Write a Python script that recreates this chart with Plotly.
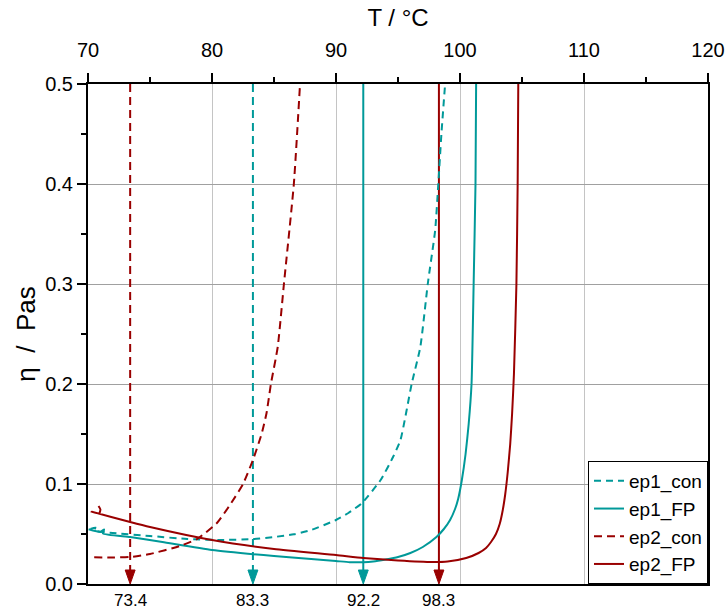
import plotly.graph_objects as go

# ---------------- data ----------------
ep1_con_T = [70.2, 70.6, 70.5, 72.0, 75.0, 78.0, 80.7, 83.3, 85.0, 86.6, 88.0, 90.0, 91.0, 92.1,
             93.6, 94.6, 95.2, 96.1, 96.8, 97.4, 98.0, 98.25, 98.5, 98.8]
ep1_con_eta = [0.055, 0.0565, 0.0535, 0.051, 0.048, 0.045, 0.044, 0.045, 0.047, 0.0497, 0.054, 0.064,
               0.071, 0.081, 0.104, 0.127, 0.144, 0.2, 0.237, 0.3, 0.354, 0.4, 0.45, 0.5]

ep1_FP_T = [70.05, 71.0, 71.3, 71.2, 73.4, 76.0, 80.0, 85.0, 88.0, 90.0, 91.1, 92.2, 93.0, 94.0,
            95.0, 96.0, 97.0, 98.1, 98.7, 99.2, 99.6, 99.85, 100.15, 100.45, 100.7, 100.93,
            101.1, 101.25, 101.3]
ep1_FP_eta = [0.0547, 0.052, 0.0545, 0.0505, 0.047, 0.042, 0.034, 0.028, 0.025, 0.023, 0.0218,
              0.0218, 0.0225, 0.0245, 0.027, 0.031, 0.037, 0.047, 0.055, 0.064, 0.075, 0.085,
              0.104, 0.13, 0.16, 0.2, 0.3, 0.4, 0.5]

ep2_con_T = [70.5, 72.0, 73.4, 75.0, 77.4, 78.8, 80.4, 81.5, 82.5, 83.3, 84.0, 84.4, 84.75,
             85.3, 85.8, 86.6, 87.1]
ep2_con_eta = [0.0267, 0.0265, 0.027, 0.030, 0.038, 0.045, 0.061, 0.08, 0.1, 0.124, 0.15, 0.171,
               0.2, 0.237, 0.3, 0.4, 0.5]

ep2_FP_T = [70.85, 71.0, 70.9, 70.3, 73.4, 75.0, 80.0, 85.0, 90.0, 92.2, 95.0, 97.8, 99.0,
            100.5, 101.5, 102.1, 102.5, 102.9, 103.2, 103.45, 103.65, 103.85, 104.05, 104.2,
            104.35, 104.55, 104.65, 104.7]
ep2_FP_eta = [0.078, 0.0745, 0.0705, 0.0723, 0.062, 0.057, 0.044, 0.035, 0.029, 0.026, 0.0235,
              0.022, 0.0225, 0.026, 0.031, 0.036, 0.042, 0.05, 0.06, 0.074, 0.09, 0.112, 0.14,
              0.17, 0.21, 0.3, 0.4, 0.5]

arrow_T = [73.4, 83.3, 92.2, 98.3]
arrow_labels = ["73.4", "83.3", "92.2", "98.3"]
arrow_series = ["ep2_con", "ep1_con", "ep1_FP", "ep2_FP"]

# ---------------- style ----------------
TEAL = "#009999"
RED = "#990000"
FONT = "Liberation Sans, Arial, sans-serif"
styles = {
    "ep1_con": dict(color=TEAL, dash="7px,5px"),
    "ep1_FP": dict(color=TEAL, dash="solid"),
    "ep2_con": dict(color=RED, dash="8px,5px"),
    "ep2_FP": dict(color=RED, dash="solid"),
}
curves = {
    "ep1_con": (ep1_con_T, ep1_con_eta),
    "ep1_FP": (ep1_FP_T, ep1_FP_eta),
    "ep2_con": (ep2_con_T, ep2_con_eta),
    "ep2_FP": (ep2_FP_T, ep2_FP_eta),
}

fig = go.Figure()

# vertical arrow lines + heads (not in legend)
HEAD_HALF_W = 0.40   # deg C
HEAD_H = 0.014       # Pa s
Y_TOP = 0.5
for T, name in zip(arrow_T, arrow_series):
    st = styles[name]
    fig.add_trace(go.Scatter(
        x=[T, T], y=[Y_TOP, HEAD_H], mode="lines",
        line=dict(color=st["color"], width=2,
                  dash="8px,5px" if st["dash"] != "solid" else "solid"),
        showlegend=False, hoverinfo="skip"))
    fig.add_trace(go.Scatter(
        x=[T - HEAD_HALF_W, T + HEAD_HALF_W, T, T - HEAD_HALF_W],
        y=[HEAD_H, HEAD_H, 0, HEAD_H],
        mode="lines", fill="toself", fillcolor=st["color"],
        line=dict(color=st["color"], width=1),
        showlegend=False, hoverinfo="skip"))

for name, (T, eta) in curves.items():
    st = styles[name]
    fig.add_trace(go.Scatter(
        x=T, y=eta, mode="lines", name=name,
        line=dict(color=st["color"], width=2, dash=st["dash"], shape="spline", smoothing=0.5)))

for T, lab in zip(arrow_T, arrow_labels):
    fig.add_annotation(x=T, y=0, xref="x", yref="y", text=lab, showarrow=False,
                       yanchor="top", yshift=-5, font=dict(family=FONT, size=17, color="black"))

fig.update_layout(
    template="none",
    width=726, height=610,
    margin=dict(l=88, r=18, t=84, b=26, autoexpand=False),
    paper_bgcolor="white", plot_bgcolor="white",
    font=dict(family=FONT, color="black"),
    showlegend=True,
    legend=dict(x=1, xanchor="right", y=0, yanchor="bottom",
                bgcolor="white", bordercolor="black", borderwidth=1,
                font=dict(family=FONT, size=19), tracegroupgap=0),
)
fig.update_xaxes(
    automargin=False,
    side="top", range=[70, 120], dtick=10, tick0=70,
    ticks="outside", ticklen=9, tickwidth=1.5, tickcolor="black",
    minor=dict(ticks="outside", ticklen=5, dtick=5, tickcolor="black", tickwidth=1.5),
    showgrid=True, gridcolor="#c4c4c4", gridwidth=1,
    showline=True, linecolor="black", linewidth=2, mirror=True,
    zeroline=False, tickfont=dict(family=FONT, size=20),
    ticklabelstandoff=8,
    title=dict(text="T / °C", font=dict(family=FONT, size=24), standoff=6),
)
fig.update_yaxes(
    automargin=False,
    range=[0, 0.5], dtick=0.1, tick0=0, tickformat=".1f",
    ticks="outside", ticklen=9, tickwidth=1.5, tickcolor="black",
    minor=dict(ticks="outside", ticklen=5, dtick=0.05, tickcolor="black", tickwidth=1.5),
    showgrid=True, gridcolor="#a0a0a0", gridwidth=1,
    showline=True, linecolor="black", linewidth=2, mirror=True,
    zeroline=False, tickfont=dict(family=FONT, size=20),
    ticklabelstandoff=0,
    title=dict(text="η\u00a0\u00a0/\u00a0\u00a0Pas", font=dict(family=FONT, size=26), standoff=2),
)

fig.write_html("out.html")
